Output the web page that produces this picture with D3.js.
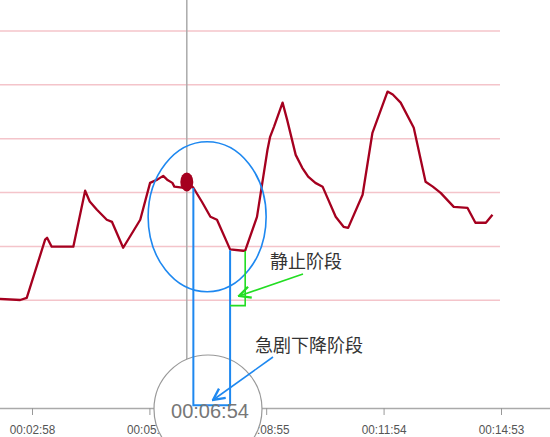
<!DOCTYPE html>
<html>
<head>
<meta charset="utf-8">
<script src="https://cdn.jsdelivr.net/npm/d3@7"></script>
<style>
  body { margin: 0; background: #fff; }
  svg { display: block; }
</style>
</head>
<body>
<svg id="chart" width="550" height="437"></svg>
<script>
// time in seconds from start, value of the curve
var times = [129, 160, 170, 198, 201, 208, 241, 259, 266, 277, 292, 300, 317, 343, 358, 369, 378, 384, 392, 395, 407, 415,
             424, 437, 450, 460, 480, 500, 503, 521, 537, 541, 547, 560, 567, 580, 590, 599, 610, 621, 641, 653, 660,
             682, 697, 720, 728, 740, 760, 778, 789, 801, 821, 842, 854, 870, 880];
var values = [40.5, 40.1, 40.9, 62.5, 63.2, 59.9, 59.9, 80.7, 76.7, 73.6, 69.9, 69.1, 59.5, 69.9, 83.6, 84.8, 86.2, 84.8, 83.6, 82.2, 81.8, 83.6,
              81.8, 76.6, 71, 69.9, 58.9, 58.4, 58.4, 71, 95.9, 100.7, 104.5, 113.4, 107, 94, 89.2, 85.9, 83.6, 82.2, 71, 67.3, 66.9,
              79.2, 102.2, 117.5, 116.4, 113.4, 104.1, 84, 82.2, 79.9, 74.7, 74.3, 68.8, 68.8, 71.8];
var tickTimes = [178, 357, 535, 714, 893];
var gridValues = [40, 60, 80, 100, 120, 140];
var cursorTime = 414;
var dropPhase = [424, 480];   // 急剧下降阶段
var stillPhase = [480, 503];  // 静止阶段

var data = times.map((t, i) => ({t: t, v: values[i]}));

function fmt(s) {
    var m = Math.floor(s / 60), sec = s % 60;
    return "00:" + String(m).padStart(2, "0") + ":" + String(sec).padStart(2, "0");
}

var svg = d3.select("#chart");
var x = d3.scaleLinear().domain([178, 893]).range([32, 501]);
var y = d3.scaleLinear().domain([0, 140]).range([408, 31]);

// grid
svg.append("g").selectAll("line").data(gridValues).enter()
    .append("line")
    .attr("x1", 0).attr("x2", 500)
    .attr("y1", d => y(d)).attr("y2", d => y(d))
    .attr("stroke", "#f4c4ca").attr("stroke-width", 1.5);

// x axis
var axis = svg.append("g").attr("transform", "translate(0," + y(0) + ")")
    .call(d3.axisBottom(x).tickValues(tickTimes).tickFormat(fmt).tickSize(7).tickSizeOuter(0));
axis.select(".domain").attr("d", "M0,0.5H550").attr("stroke", "#aaa").attr("stroke-width", 1.5);
axis.selectAll(".tick line").attr("stroke", "#999");
axis.selectAll(".tick text").attr("fill", "#555").attr("font-size", 12.5)
    .attr("font-family", "'Liberation Sans', Arial, sans-serif").attr("dy", "1.1em")
    .attr("transform", "scale(0.94,1.08)");

// crosshair
svg.append("line")
    .attr("x1", x(cursorTime)).attr("x2", x(cursorTime))
    .attr("y1", 0).attr("y2", y(0))
    .attr("stroke", "#aaa").attr("stroke-width", 1.5);

// curve
var line = d3.line().x(d => x(d.t)).y(d => y(d.v));
svg.append("path").datum(data)
    .attr("d", line)
    .attr("fill", "none")
    .attr("stroke", "#a5001f")
    .attr("stroke-width", 2.3)
    .attr("stroke-linejoin", "round");

var cursorVal = values[times.indexOf(415)];
svg.append("ellipse")
    .attr("cx", x(cursorTime)).attr("cy", y(cursorVal) - 1)
    .attr("rx", 6.5).attr("ry", 9.5)
    .attr("fill", "#a5001f");

// tooltip bubble
svg.append("circle")
    .attr("cx", 208).attr("cy", 409).attr("r", 54)
    .attr("fill", "#fff").attr("stroke", "#999").attr("stroke-width", 1.2);

// annotations
var defs = svg.append("defs");
[["blueHead", "#1e88f0"], ["greenHead", "#22dd22"]].forEach(m => {
    defs.append("marker").attr("id", m[0])
        .attr("viewBox", "0 0 10 10").attr("refX", 9).attr("refY", 5)
        .attr("markerWidth", 9).attr("markerHeight", 9).attr("orient", "auto")
        .append("path").attr("d", "M1,1L9,5L1,9")
        .attr("fill", "none").attr("stroke", m[1]).attr("stroke-width", 1.6);
});

svg.append("ellipse")
    .attr("cx", x(445)).attr("cy", y(71))
    .attr("rx", 59).attr("ry", 75)
    .attr("fill", "none").attr("stroke", "#1e88f0").attr("stroke-width", 1.6);

svg.append("path")
    .attr("d", "M" + x(dropPhase[0]) + "," + (y(cursorVal) + 5) +
               "V" + y(1) + "H" + x(dropPhase[1]) + "V" + y(58.6))
    .attr("fill", "none").attr("stroke", "#1e88f0").attr("stroke-width", 2);

svg.append("path")
    .attr("d", "M" + x(stillPhase[0]) + "," + y(38) +
               "H" + x(stillPhase[1]) + "V" + y(58.3))
    .attr("fill", "none").attr("stroke", "#22dd22").attr("stroke-width", 1.6);

svg.append("line")
    .attr("x1", 303).attr("y1", 274).attr("x2", 239).attr("y2", 296)
    .attr("stroke", "#22dd22").attr("stroke-width", 1.6)
    .attr("marker-end", "url(#greenHead)");

svg.append("line")
    .attr("x1", 273).attr("y1", 357).attr("x2", 213).attr("y2", 400)
    .attr("stroke", "#1e88f0").attr("stroke-width", 1.6)
    .attr("marker-end", "url(#blueHead)");

svg.append("text")
    .attr("x", 270).attr("y", 268)
    .attr("font-family", "'Noto Sans CJK SC', sans-serif").attr("font-size", 18)
    .attr("fill", "#333")
    .text("静止阶段");

svg.append("text")
    .attr("x", 255).attr("y", 352)
    .attr("font-family", "'Noto Sans CJK SC', sans-serif").attr("font-size", 18)
    .attr("fill", "#333")
    .text("急剧下降阶段");

svg.append("text")
    .attr("x", 210).attr("y", 418)
    .attr("text-anchor", "middle")
    .attr("font-family", "'Liberation Sans', Arial, sans-serif").attr("font-size", 20)
    .attr("fill", "#777")
    .text(fmt(cursorTime));
</script>
</body>
</html>
